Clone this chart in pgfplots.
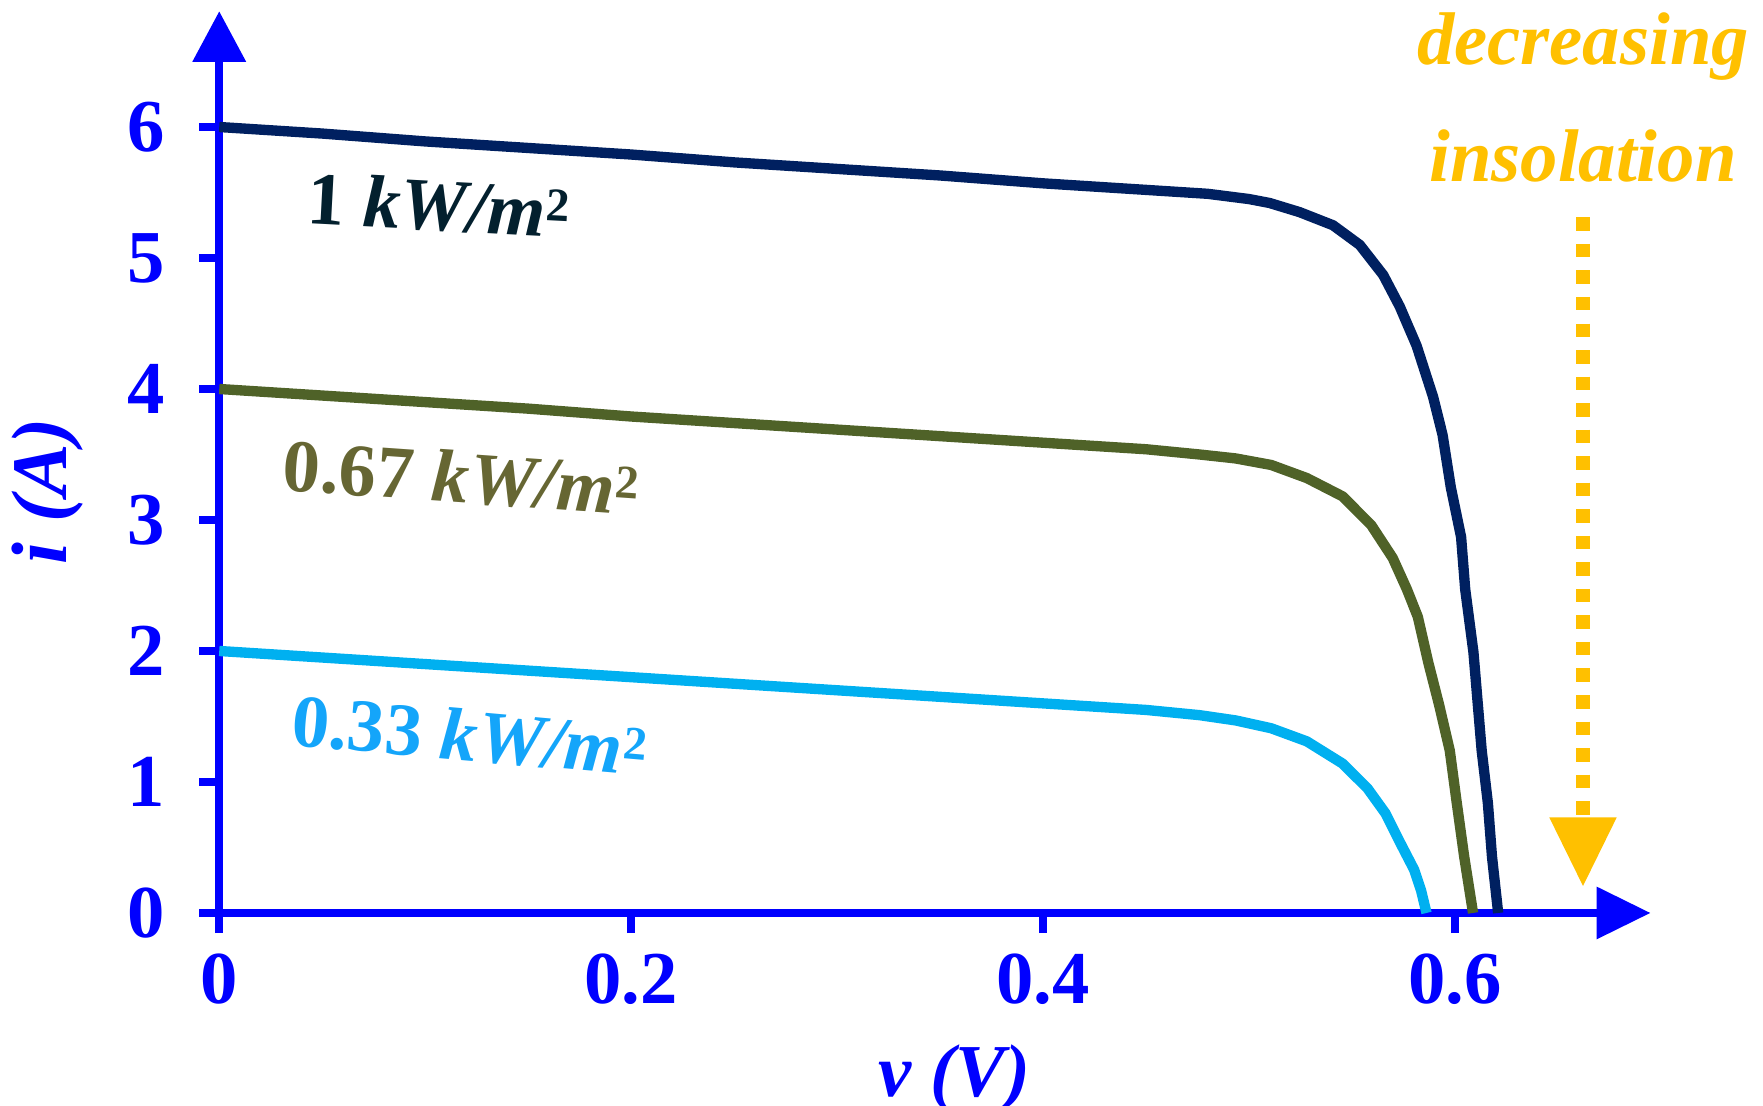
\documentclass[border=0pt]{standalone}
\usepackage{pgfplots}
\pgfplotsset{compat=1.18}
\usepackage{fontspec}
\setmainfont{Liberation Serif}
\usetikzlibrary{arrows.meta}
\definecolor{navyc}{HTML}{002060}
\definecolor{olivec}{HTML}{4F6228}
\definecolor{cyanc}{HTML}{00B0F0}
\definecolor{navyt}{HTML}{03202E}
\definecolor{olivet}{HTML}{666633}
\definecolor{cyant}{HTML}{14A5FA}
\definecolor{insol}{HTML}{FFC000}
\definecolor{axblue}{RGB}{0,0,255}
\newcommand{\bigf}{\fontsize{16.6}{20}\selectfont\bfseries}
\newcommand{\sq}{\raisebox{3.5pt}{\fontsize{10.5}{12}\selectfont\bfseries\upshape 2}}

\pgfplotstableread{
v i
0 6.00
0.05 5.95
0.10 5.89
0.15 5.84
0.20 5.79
0.25 5.73
0.30 5.68
0.35 5.63
0.40 5.57
0.45 5.52
0.48 5.49
0.50 5.45
0.51 5.42
0.5246 5.35
0.5408 5.25
0.5538 5.10
0.5652 4.87
0.5732 4.63
0.5814 4.33
0.5894 3.94
0.594 3.65
0.598 3.25
0.603 2.87
0.605 2.47
0.609 1.99
0.613 1.24
0.616 0.84
0.618 0.43
0.621 0
}\tabA

\pgfplotstableread{
v i
0 4.00
0.05 3.95
0.10 3.90
0.15 3.85
0.20 3.79
0.25 3.74
0.30 3.69
0.35 3.64
0.40 3.59
0.45 3.54
0.476 3.50
0.4935 3.47
0.5108 3.42
0.5281 3.32
0.5455 3.18
0.5594 2.96
0.5698 2.71
0.5767 2.47
0.5820 2.26
0.5871 1.91
0.5923 1.59
0.5975 1.24
0.6009 0.84
0.6045 0.43
0.6088 0
}\tabB

\pgfplotstableread{
v i
0 2.00
0.05 1.95
0.10 1.90
0.15 1.85
0.20 1.80
0.25 1.75
0.30 1.70
0.35 1.65
0.40 1.60
0.45 1.55
0.476 1.51
0.4935 1.47
0.5108 1.41
0.5281 1.31
0.5455 1.14
0.5576 0.95
0.5663 0.76
0.5733 0.54
0.5802 0.33
0.5836 0.17
0.5862 0
}\tabC

\begin{document}
\begin{tikzpicture}
\useasboundingbox (0pt,0pt) rectangle (392pt,245.75pt);
\begin{axis}[
  at={(48.75pt,42.75pt)}, anchor=south west,
  scale only axis, width=318.25pt, height=200.5pt,
  xmin=0, xmax=0.695, ymin=0, ymax=6.884,
  axis lines=left,
  clip=false,
  axis line style={axblue, line width=1.75pt},
  x axis line style={-{Triangle[length=12pt,width=11.25pt]}},
  y axis line style={-{Triangle[length=11.25pt,width=11.5pt]}},
  xtick={0,0.2,0.4,0.6}, xticklabels={0,0.2,0.4,0.6},
  ytick={0,1,2,3,4,5,6}, yticklabels={0,1,2,3,4,5,6},
  tick align=outside, major tick length=4.5pt,
  tick style={axblue, line width=1.75pt},
  ticklabel style={text=axblue, font=\bigf},
  yticklabel style={xshift=-4pt},
  xticklabel style={yshift=-1pt},
]
\addplot[navyc, line width=2.3pt, line join=round] table[x=v,y=i] {\tabA};
\addplot[olivec, line width=2.3pt, line join=round] table[x=v,y=i] {\tabB};
\addplot[cyanc, line width=2.3pt, line join=round] table[x=v,y=i] {\tabC};

\node[anchor=base west, rotate=-3, text=navyt, font=\bigf, inner sep=0pt] at (axis cs:0.0420,5.262) {1 \textit{kW/m}\sq};
\node[anchor=base west, rotate=-4, text=olivet, font=\bigf, inner sep=0pt] at (axis cs:0.0300,3.227) {0.67 \textit{kW/m}\sq};
\node[anchor=base west, rotate=-5, text=cyant, font=\bigf, inner sep=0pt] at (axis cs:0.0340,1.282) {0.33 \textit{kW/m}\sq};

\node[anchor=base, text=insol, font=\bigf\itshape, inner sep=0pt] at (axis cs:0.6622,6.474) {decreasing};
\node[anchor=base, text=insol, font=\bigf\itshape, inner sep=0pt] at (axis cs:0.6622,5.583) {insolation};
\draw[insol, line width=3pt, dash pattern=on 3pt off 2.9pt] (axis cs:0.6622,5.31) -- (axis cs:0.6622,0.74);
\fill[insol] (axis cs:0.6622,0.206) -- ++(-7.5pt,15.25pt) -- ++(15pt,0pt) -- cycle;

\node[anchor=base, text=axblue, font=\bigf\itshape, inner sep=0pt] at (axis cs:0.357,-1.399) {v (V)};
\node[anchor=center, rotate=90, text=axblue, font=\fontsize{17.5}{20}\selectfont\bfseries\itshape, inner sep=0pt] at (axis cs:-0.0835,3.22) {i (A)};
\end{axis}
\end{tikzpicture}
\end{document}
